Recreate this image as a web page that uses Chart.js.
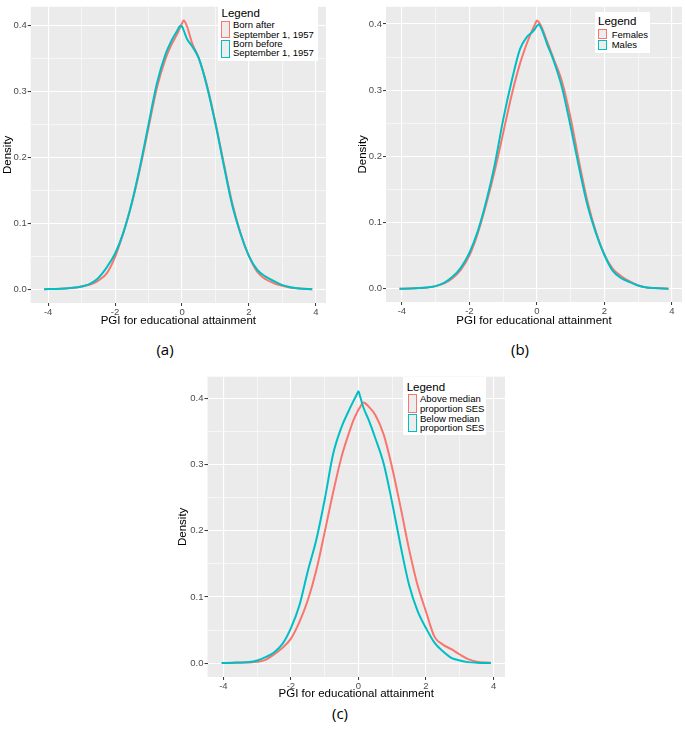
<!DOCTYPE html>
<html><head><meta charset="utf-8">
<script src="https://cdn.jsdelivr.net/npm/chart.js@4/dist/chart.umd.min.js"></script>
<style>
body{margin:0;background:#fff;}
#page{position:relative;width:685px;height:730px;overflow:hidden;font-family:"Liberation Sans",Arial,sans-serif;background:#fff;}
canvas{position:absolute;}
.lg{position:absolute;background:#fff;font-family:"Liberation Sans",Arial,sans-serif;font-weight:400;}
.lg .t{position:absolute;font-size:11.5px;line-height:12px;color:#000;white-space:nowrap;font-weight:400;}
.lg .k{position:absolute;box-sizing:border-box;border:1.6px solid;background:#EDEDED;}
.lg .l{position:absolute;font-size:9.5px;line-height:10px;color:#000;white-space:nowrap;font-weight:400;}
.cap{position:absolute;font-family:"Open Sans","Noto Sans",sans-serif;font-size:15px;line-height:18px;color:#000;transform:translate(-50%,-50%);}
</style></head>
<body>
<div id="page">
  <canvas id="cA" width="330" height="330" style="left:0;top:0"></canvas>
  <canvas id="cB" width="330" height="330" style="left:355px;top:0"></canvas>
  <canvas id="cC" width="335" height="332" style="left:175px;top:370px"></canvas>

  <div class="lg" id="lgA" style="left:218px;top:4px;width:100px;height:57px;">
    <div class="t" style="left:3.5px;top:2.7px;">Legend</div>
    <div class="k" id="kA1" style="left:3px;top:16.7px;width:9px;height:17.6px;"></div>
    <div class="k" id="kA2" style="left:3px;top:36px;width:9px;height:17.7px;"></div>
    <div class="l" style="left:15px;top:16px;">Born after</div>
    <div class="l" style="left:15px;top:26px;">September 1, 1957</div>
    <div class="l" style="left:15px;top:35.3px;">Born before</div>
    <div class="l" style="left:15px;top:44.3px;">September 1, 1957</div>
  </div>

  <div class="lg" id="lgB" style="left:595px;top:12px;width:55px;height:41px;">
    <div class="t" style="left:3px;top:3px;">Legend</div>
    <div class="k" id="kB1" style="left:3.3px;top:17.3px;width:9px;height:9.7px;"></div>
    <div class="k" id="kB2" style="left:3.3px;top:28px;width:9px;height:10px;"></div>
    <div class="l" style="left:16.7px;top:17.7px;">Females</div>
    <div class="l" style="left:16.7px;top:28px;">Males</div>
  </div>

  <div class="lg" id="lgC" style="left:403px;top:377px;width:83px;height:58px;">
    <div class="t" style="left:3.7px;top:3.7px;">Legend</div>
    <div class="k" id="kC1" style="left:4.7px;top:17px;width:9.6px;height:19.3px;"></div>
    <div class="k" id="kC2" style="left:4.7px;top:37px;width:9.6px;height:18.3px;"></div>
    <div class="l" style="left:17px;top:17.3px;">Above median</div>
    <div class="l" style="left:17px;top:27.3px;">proportion SES</div>
    <div class="l" style="left:17px;top:37px;">Below median</div>
    <div class="l" style="left:17px;top:46.3px;">proportion SES</div>
  </div>

  <div class="cap" style="left:165px;top:349px;">(a)</div>
  <div class="cap" style="left:520px;top:349px;">(b)</div>
  <div class="cap" style="left:340px;top:713px;">(c)</div>
</div>
<script>
// ---------- DATA ----------
const seriesColors = ['#F8766D', '#00BFC4'];
const xTitle = 'PGI for educational attainment';
const yTitle = 'Density';

const xMajorTicks = [-4, -2, 0, 2, 4];
const xMajorLabels = ['-4', '-2', '0', '2', '4'];
const xMinorTicks = [-3, -1, 1, 3];
const yMajorTicks = [0, 0.1, 0.2, 0.3, 0.4];
const yMajorLabels = ['0.0', '0.1', '0.2', '0.3', '0.4'];
const yMinorTicks = [0.05, 0.15, 0.25, 0.35];

// Panel (a)
const pgiA = [-4.12, -3.75, -3.5, -3.25, -3, -2.75, -2.5, -2.25, -2, -1.75, -1.5, -1.25, -1, -0.75, -0.5, -0.3, -0.15, -0.05, 0, 0.05, 0.15, 0.3, 0.5, 0.75, 1, 1.25, 1.5, 1.75, 2, 2.25, 2.5, 2.75, 3, 3.25, 3.5, 3.89];
const bornAfter = [0, 0.0004, 0.001, 0.002, 0.004, 0.007, 0.013, 0.024, 0.049, 0.086, 0.130, 0.184, 0.245, 0.305, 0.348, 0.372, 0.386, 0.397, 0.403, 0.407, 0.398, 0.373, 0.350, 0.308, 0.252, 0.190, 0.130, 0.084, 0.050, 0.026, 0.015, 0.009, 0.005, 0.002, 0.001, 0];
const bornBefore = [0, 0.0004, 0.001, 0.002, 0.004, 0.008, 0.017, 0.033, 0.054, 0.086, 0.131, 0.187, 0.250, 0.312, 0.355, 0.378, 0.391, 0.399, 0.398, 0.392, 0.379, 0.368, 0.350, 0.306, 0.250, 0.187, 0.127, 0.084, 0.050, 0.029, 0.019, 0.012, 0.006, 0.003, 0.001, 0];
const labelsA = ['Born after September 1, 1957', 'Born before September 1, 1957'];

// Panel (b)
const pgiB = [-4.07, -3.75, -3.5, -3.25, -3, -2.75, -2.5, -2.25, -2, -1.75, -1.5, -1.25, -1, -0.75, -0.5, -0.3, -0.15, -0.05, 0, 0.05, 0.15, 0.3, 0.5, 0.75, 1, 1.25, 1.5, 1.75, 2, 2.25, 2.5, 2.75, 3, 3.25, 3.5, 3.9];
const females = [0, 0.0004, 0.001, 0.002, 0.004, 0.008, 0.016, 0.029, 0.050, 0.084, 0.128, 0.178, 0.235, 0.292, 0.340, 0.370, 0.389, 0.400, 0.405, 0.403, 0.394, 0.374, 0.347, 0.312, 0.258, 0.192, 0.132, 0.086, 0.052, 0.030, 0.019, 0.011, 0.005, 0.002, 0.001, 0];
const males = [0, 0.0004, 0.001, 0.002, 0.004, 0.009, 0.018, 0.032, 0.054, 0.087, 0.132, 0.187, 0.255, 0.313, 0.362, 0.380, 0.387, 0.393, 0.397, 0.399, 0.391, 0.370, 0.344, 0.303, 0.245, 0.183, 0.126, 0.084, 0.051, 0.027, 0.016, 0.010, 0.005, 0.002, 0.001, 0];
const labelsB = ['Females', 'Males'];

// Panel (c)
const pgiC = [-4.05, -3.75, -3.5, -3.25, -3, -2.75, -2.5, -2.25, -2, -1.75, -1.5, -1.25, -1, -0.75, -0.5, -0.3, -0.15, -0.05, 0, 0.05, 0.15, 0.3, 0.5, 0.75, 1, 1.25, 1.5, 1.75, 2, 2.25, 2.5, 2.75, 3, 3.25, 3.5, 3.92];
const aboveMedianSES = [0, 0.0003, 0.0007, 0.001, 0.002, 0.005, 0.013, 0.023, 0.037, 0.062, 0.095, 0.140, 0.198, 0.258, 0.312, 0.345, 0.367, 0.378, 0.383, 0.387, 0.394, 0.388, 0.375, 0.345, 0.295, 0.235, 0.172, 0.118, 0.078, 0.040, 0.028, 0.021, 0.013, 0.006, 0.002, 0.0005];
const belowMedianSES = [0, 0.0005, 0.001, 0.0015, 0.004, 0.009, 0.016, 0.029, 0.053, 0.087, 0.139, 0.186, 0.247, 0.316, 0.357, 0.380, 0.396, 0.406, 0.411, 0.403, 0.386, 0.368, 0.340, 0.301, 0.242, 0.177, 0.118, 0.079, 0.053, 0.031, 0.018, 0.008, 0.004, 0.0015, 0.0007, 0];
const labelsC = ['Above median proportion SES', 'Below median proportion SES'];

// ---------- RENDER ----------
const FONT = '"Liberation Sans", Arial, sans-serif';
const near = (a, b) => Math.abs(a - b) < 1e-9;
const inList = (v, list) => list.some(t => near(t, v));

const panelBg = {
  id: 'panelBg',
  beforeDraw(chart) {
    const {ctx, chartArea: {left, top, right, bottom}} = chart;
    ctx.save();
    ctx.fillStyle = '#EBEBEB';
    ctx.fillRect(left, top, right - left, bottom - top);
    ctx.restore();
  }
};

function axis(majors, labels, minors, min, max, fitFn, titleText, titlePad) {
  const all = majors.concat(minors).sort((a, b) => a - b);
  return {
    type: 'linear', min, max,
    afterBuildTicks: s => { s.ticks = all.map(v => ({value: v})); },
    afterFit: fitFn,
    border: {display: false},
    grid: {
      color: '#FFFFFF',
      lineWidth: c => (c.tick && inList(c.tick.value, majors)) ? 1.1 : 0.55,
      tickLength: 3,
      tickWidth: 1,
      tickColor: c => (c.tick && inList(c.tick.value, majors)) ? '#333333' : 'rgba(0,0,0,0)'
    },
    ticks: {
      autoSkip: false, maxRotation: 0, padding: 1, color: '#4D4D4D',
      font: {family: FONT, size: 9.5},
      callback: v => { const i = majors.findIndex(t => near(t, v)); return i >= 0 ? labels[i] : ''; }
    },
    title: {display: true, text: titleText, color: '#000', font: {family: FONT, size: 11.5}, padding: titlePad}
  };
}

function makePanel(id, xs, ys1, ys2, names, cfg) {
  const pts = ys => xs.map((x, i) => ({x, y: ys[i]}));
  return new Chart(document.getElementById(id), {
    type: 'line',
    data: {
      datasets: [ys1, ys2].map((ys, k) => ({
        label: names[k], data: pts(ys), borderColor: seriesColors[k], backgroundColor: seriesColors[k],
        order: 1 - k,
        borderWidth: 2, pointRadius: 0, fill: false, cubicInterpolationMode: 'monotone'
      }))
    },
    options: {
      responsive: false, animation: false, devicePixelRatio: 1,
      layout: {padding: {top: cfg.pt, right: cfg.pr, left: 0, bottom: 0}},
      plugins: {legend: {display: false}, tooltip: {enabled: false}},
      scales: {
        x: axis(xMajorTicks, xMajorLabels, xMinorTicks, cfg.xmin, cfg.xmax, s => { s.height = cfg.xh; }, xTitle, {top: 0, bottom: cfg.tb}),
        y: axis(yMajorTicks, yMajorLabels, yMinorTicks, cfg.ymin, cfg.ymax, s => { s.width = cfg.yw; }, yTitle, {top: 1, bottom: 0})
      }
    },
    plugins: [panelBg]
  });
}

makePanel('cA', pgiA, bornAfter, bornBefore, labelsA, {pt: 2, pr: 4, xh: 27, yw: 30.7, tb: 2, xmin: -4.521, xmax: 4.301, ymin: -0.021, ymax: 0.428});
makePanel('cB', pgiB, females, males, labelsB, {pt: 2, pr: 3, xh: 28, yw: 31, tb: 2, xmin: -4.47, xmax: 4.3, ymin: -0.020, ymax: 0.426});
makePanel('cC', pgiC, aboveMedianSES, belowMedianSES, labelsC, {pt: 5, pr: 5, xh: 25, yw: 32.5, tb: 1, xmin: -4.47, xmax: 4.34, ymin: -0.021, ymax: 0.433});

['A', 'B', 'C'].forEach(p => {
  document.getElementById('k' + p + '1').style.borderColor = seriesColors[0];
  document.getElementById('k' + p + '2').style.borderColor = seriesColors[1];
});
</script>
</body></html>
